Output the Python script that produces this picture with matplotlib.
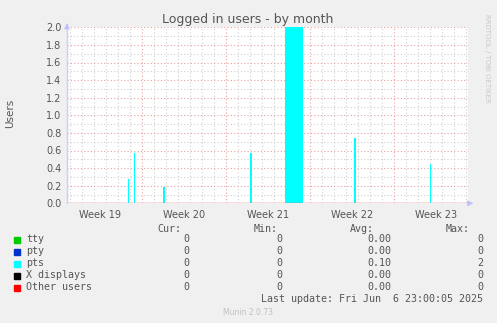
import matplotlib as mpl
mpl.use('Agg')
import matplotlib.pyplot as plt

# pts area (day offset from left edge, width in days, value)
pts_start = [5.07, 5.55, 7.97, 15.29, 18.17, 23.9, 30.24]
pts_width = [0.13, 0.14, 0.17, 0.12, 1.47, 0.16, 0.12]
pts_value = [0.28, 0.575, 0.19, 0.57, 2.0, 0.74, 0.45]

week_labels = ['Week 19', 'Week 20', 'Week 21', 'Week 22', 'Week 23']
week_pos = [2.75, 9.75, 16.75, 23.75, 30.75]

names = ['tty', 'pty', 'pts', 'X displays', 'Other users']
colors = ['#00cc00', '#0033cc', '#00ffff', '#000000', '#ff0000']
cur = ['0', '0', '0', '0', '0']
mins = ['0', '0', '0', '0', '0']
avgs = ['0.00', '0.00', '0.10', '0.00', '0.00']
maxs = ['0', '0', '2', '0', '0']

W, H = 497, 323
fig = plt.figure(figsize=(W / 100, H / 100), dpi=100, facecolor='#f0f0f0')
ax = fig.add_axes([67 / W, 1 - 203.3 / H, 401 / W, 176 / H])
ax.set_facecolor('white')
ax.set_xlim(0, 33.42)
ax.set_ylim(0, 2.0)

# grid
for d in range(34):
    x = 0.27 + d
    if (d - 6) % 7 == 0:
        continue
    ax.axvline(x, color='#d0d0d0', lw=0.8, ls=(0, (1, 2)), zorder=0)
for k in range(4):
    ax.axvline(6.27 + 7 * k, color='#e8a0a0', lw=0.8, ls=(0, (1, 2)), zorder=0)
for i in range(21):
    y = i * 0.1
    c = '#e8a0a0' if i % 2 == 0 else '#d0d0d0'
    ax.axhline(y, color=c, lw=0.8, ls=(0, (1, 2)), zorder=0)

ax.bar(pts_start, pts_value, width=pts_width, align='edge', color='#00ffff',
       lw=0, zorder=2)
ax.axhline(0, color='#e06070', lw=1.0, zorder=3)

for s in ax.spines.values():
    s.set_visible(False)
ax.axvline(0, color='#ccccff', lw=1.0, zorder=3, clip_on=False)
ax.annotate('', xy=(0, 2.08), xytext=(0, 1.98), xycoords='data',
            arrowprops=dict(arrowstyle='-|>', color='#c0c0ff', lw=0.8, mutation_scale=8),
            annotation_clip=False)
ax.annotate('', xy=(34.1, 0), xytext=(33.3, 0), xycoords='data',
            arrowprops=dict(arrowstyle='-|>', color='#c0c0ff', lw=0.8, mutation_scale=8),
            annotation_clip=False)

ax.set_yticks([i * 0.2 for i in range(11)])
ax.set_yticklabels(['%.1f' % (i * 0.2) for i in range(11)])
ax.set_xticks(week_pos)
ax.set_xticklabels(week_labels)
ax.tick_params(axis='both', length=0, labelsize=7, labelcolor='#555555', pad=4)
ax.tick_params(axis='x', pad=5)

fig.text(248 / W, 1 - 19 / H, 'Logged in users - by month', ha='center', va='center',
         fontsize=9, color='#555555')
fig.text(10 / W, 1 - 113 / H, 'Users', ha='center', va='center', rotation=90,
         fontsize=7.5, color='#555555')
fig.text(487 / W, 1 - 58 / H, 'RRDTOOL / TOBI OETIKER', ha='center', va='center',
         rotation=270, fontsize=5, color='#c8c8c8')

mono = 'DejaVu Sans Mono'
fs = 7.2
tc = '#555555'
hy = 228.5
for txt, xr in [('Cur:', 181), ('Min:', 278), ('Avg:', 374), ('Max:', 470)]:
    fig.text(xr / W, 1 - hy / H, txt, ha='right', va='center', family=mono, fontsize=fs, color=tc)
for i in range(len(names)):
    y = 1 - (239.5 + 12 * i) / H
    fig.patches.append(mpl.patches.Rectangle((14 / W, y - 3 / H), 6 / W, 6 / H,
                                             transform=fig.transFigure, color=colors[i]))
    fig.text(26 / W, y, names[i], ha='left', va='center', family=mono, fontsize=fs, color=tc)
    fig.text(189.5 / W, y, cur[i], ha='right', va='center', family=mono, fontsize=fs, color=tc)
    fig.text(282 / W, y, mins[i], ha='right', va='center', family=mono, fontsize=fs, color=tc)
    fig.text(391 / W, y, avgs[i], ha='right', va='center', family=mono, fontsize=fs, color=tc)
    fig.text(483 / W, y, maxs[i], ha='right', va='center', family=mono, fontsize=fs, color=tc)
fig.text(483 / W, 1 - 299.5 / H, 'Last update: Fri Jun  6 23:00:05 2025', ha='right',
         va='center', family=mono, fontsize=fs, color=tc)
fig.text(248 / W, 1 - 312.5 / H, 'Munin 2.0.73', ha='center', va='center',
         fontsize=5.5, color='#c0c0c0')

fig.savefig('out.png', dpi=100, facecolor=fig.get_facecolor())
